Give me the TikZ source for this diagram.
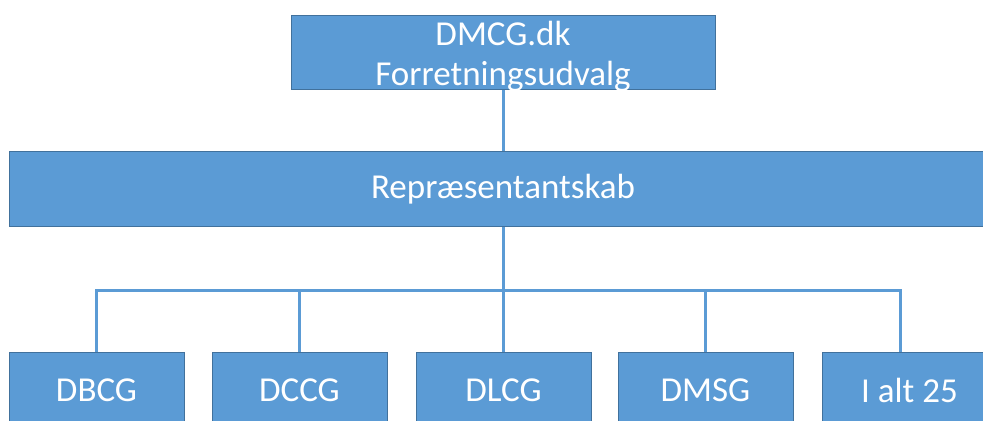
\documentclass[tikz,border=0pt]{standalone}
\usepackage{fontspec}
\setmainfont{Carlito}
\usepackage{tikz}
\usetikzlibrary{positioning,calc}
\definecolor{boxfill}{HTML}{5B9BD5}
\definecolor{boxline}{HTML}{41719C}
\tikzset{
  box/.style={draw=boxline, fill=boxfill, line width=0.5pt, text=white, align=center, inner sep=0pt, font=\fontsize{17.5}{20}\selectfont},
  head/.style={box, minimum width=212pt, minimum height=37pt, text depth=0pt},
  wide/.style={box, minimum width=494pt, minimum height=37.5pt},
  unit/.style={box, minimum width=87.5pt, minimum height=37.5pt},
  link/.style={draw=boxfill, line width=1.5pt},
}

\begin{document}
\begin{tikzpicture}[x=0.5pt, y=-0.5pt]
\clip (0,0) rectangle (983,421);
\useasboundingbox (0,0) rectangle (983,421);

\node (top) [head] at (503,53) {DMCG.dk\\Forretningsudvalg};
\node (rep) [wide] at (503,189.5) {Repræsentantskab};
\node (dbcg) [unit] at (96.5,390.5) {DBCG};
\node (dccg) [unit] at (299.5,390.5) {DCCG};
\node (dlcg) [unit] at (503.5,390.5) {DLCG};
\node (dmsg) [unit] at (705.5,390.5) {DMSG};
\node (ialt) [unit] at (909.5,390.5) {I alt 25};

% main path
\coordinate (bar) at (503,291);
\draw[link] (top.south) -- (rep.north);
\draw[link] (rep.south) -- (bar);

% branches
\foreach \n in {dbcg,dccg,dlcg,dmsg}
  \draw[link] (bar) -| (\n.north);
\draw[link] (bar) -| ([xshift=-4.5pt]ialt.north);
\end{tikzpicture}
\end{document}
